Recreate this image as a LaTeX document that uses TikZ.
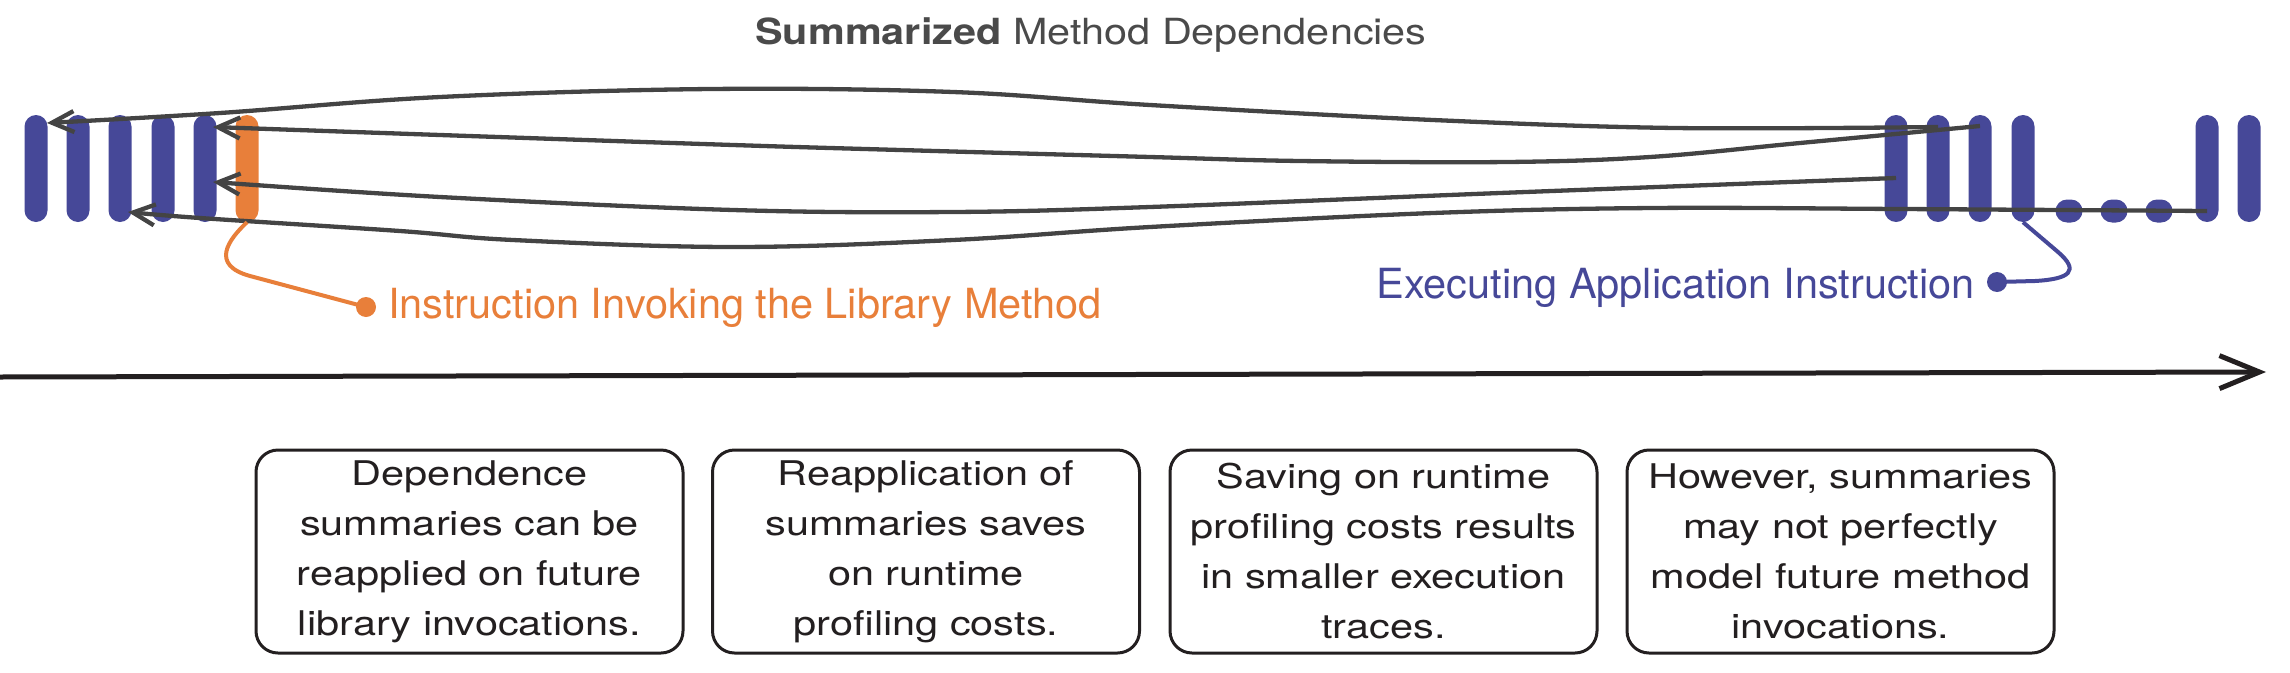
\documentclass[tikz,border=0pt]{standalone}
\usepackage{fontspec}
\setmainfont{TeX Gyre Heros}
\newfontfamily\titlefont[FakeStretch=1.15]{TeX Gyre Heros}
\newfontfamily\boxfont[FakeStretch=1.22]{TeX Gyre Heros}
\usetikzlibrary{arrows.meta}
\definecolor{barblue}{RGB}{70,72,152}
\definecolor{barorange}{RGB}{232,127,58}
\definecolor{linegray}{RGB}{68,68,68}
\definecolor{inkblack}{RGB}{35,31,32}
\definecolor{titlegray}{RGB}{74,74,74}
\begin{document}
\begin{tikzpicture}[x=1pt,y=-1pt,
  bar/.style={rectangle, fill=barblue, minimum width=23pt, minimum height=107pt, rounded corners=11.5pt, inner sep=0pt},
  obar/.style={bar, fill=barorange},
  pill/.style={rectangle, fill=barblue, minimum width=27pt, minimum height=23pt, rounded corners=11.5pt, inner sep=0pt},
  dep/.style={draw=linegray, line width=4.3pt, -{Straight Barb[length=22pt,width=21pt]}},
  note/.style={draw=inkblack, line width=3pt, rounded corners=22pt, minimum width=427pt, minimum height=203pt, align=center, text=inkblack, font=\boxfont\fontsize{34}{50}\selectfont, inner sep=0pt},
  lab/.style={font=\fontsize{41.5}{48}\selectfont, inner sep=0pt},
  bigdot/.style={circle, minimum size=20pt, inner sep=0pt}
]
\useasboundingbox (0,0) rectangle (2290,672);

% title
\node[font=\titlefont\fontsize{36}{43}\selectfont, text=titlegray, anchor=base, inner sep=0pt] (title) at (1091,44) {\textbf{Summarized} Method Dependencies};

% left bars
\node[bar] (L1) at (36,168.5) {};
\node[bar] (L2) at (78,168.5) {};
\node[bar] (L3) at (120,168.5) {};
\node[bar] (L4) at (163,168.5) {};
\node[bar] (L5) at (205,168.5) {};
\node[obar] (L6) at (247,168.5) {};

% right bars
\node[bar] (R1) at (1896,168.5) {};
\node[bar] (R2) at (1938,168.5) {};
\node[bar] (R3) at (1980,168.5) {};
\node[bar] (R4) at (2023,168.5) {};
\node[pill] (P1) at (2069,211) {};
\node[pill] (P2) at (2114,211) {};
\node[pill] (P3) at (2159,211) {};
\node[bar] (R8) at (2207,168.5) {};
\node[bar] (R9) at (2249,168.5) {};

% connector end points on the bars
\path ([yshift=41.5pt]R2.center) coordinate (a0)
      ([xshift=11pt,yshift=45.5pt]L1.center) coordinate (a1)
      ([yshift=42.5pt]R3.center) coordinate (b0)
      ([xshift=8pt,yshift=41.5pt]L5.center) coordinate (b1)
      ([yshift=-9.5pt]R1.center) coordinate (c0)
      ([xshift=8pt,yshift=-13.5pt]L5.center) coordinate (c1)
      ([yshift=-42.5pt]R8.center) coordinate (d0)
      ([xshift=8pt,yshift=-43.5pt]L3.center) coordinate (d1);

% dependency curves
\draw[dep] plot[smooth, tension=0.6] coordinates {(a0) (1675,128) (1433,120) (1150,105) (953,92) (711,89) (440,97) (220,113) (a1)};
\draw[dep] plot[smooth, tension=0.6] coordinates {(b0) (1800,143) (1650,157) (1507,162) (1300,161) (1150,157) (900,150) (733,145) (440,135) (b1)};
\draw[dep] plot[smooth, tension=0.6] coordinates {(c0) (1500,193) (1150,207) (953,212) (733,210) (440,197) (c1)};
\draw[dep] plot[smooth, tension=0.6] coordinates {(d0) (1900,209) (1653,208) (1433,213) (1150,227) (953,240) (733,247) (513,240) (400,231) (200,218) (d1)};

% labels
\node[bigdot, fill=barorange] (odot) at (366,307) {};
\node[lab, text=barorange, anchor=base west] (olab) at (388,318) {Instruction Invoking the Library Method};
\draw[barorange, line width=4pt] (L6.south) .. controls (228,240) and (210,265) .. (250,276) -- (odot.center);

\node[bigdot, fill=barblue] (bdot) at (1997,282) {};
\node[lab, text=barblue, anchor=base east] (blab) at (1975,298) {Executing Application Instruction};
\draw[barblue, line width=4pt] (R4.south) -- (2058,252) .. controls (2080,271) and (2070,279) .. (2035,281) -- (bdot.center);

% timeline
\coordinate (t0) at (0,377);
\coordinate (t1) at (2266,372);
\draw[draw=inkblack, line width=5pt, -{Straight Barb[length=40pt,width=33pt]}] (t0) -- (t1);

% notes
\node[note] (n1) at (469.5,551.5) {Dependence\\summaries can be\\reapplied on future\\library invocations.};
\node[note] (n2) at (926,551.5) {Reapplication of\\summaries saves\\on runtime\\profiling costs.};
\node[note] (n3) at (1383.5,551.5) {Saving on runtime\\profiling costs results\\in smaller execution\\traces.};
\node[note] (n4) at (1840.5,551.5) {However, summaries\\may not perfectly\\model future method\\invocations.};
\end{tikzpicture}
\end{document}
